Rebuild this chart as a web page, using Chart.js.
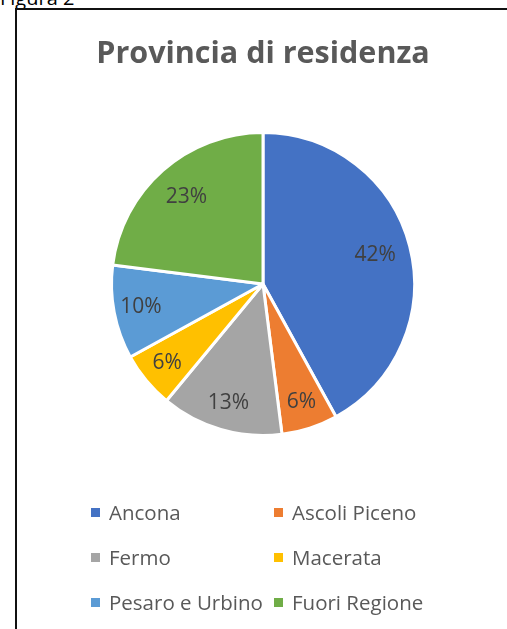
<!DOCTYPE html>
<html>
<head>
<meta charset="utf-8">
<script src="https://cdn.jsdelivr.net/npm/chart.js@4.4.0/dist/chart.umd.min.js"></script>
<style>
  html, body { margin: 0; padding: 0; background: #fff; width: 507px; height: 629px; overflow: hidden; position: relative; }
  #fig { position: absolute; left: 0; top: -16px; font-family: "Open Sans", sans-serif; font-size: 20px; color: #000; }
  #frame { position: absolute; left: 15px; top: 8px; width: 520px; height: 640px; border-left: 2px solid #111; border-top: 2px solid #111; }
  #wrap { position: absolute; left: 0; top: 0; width: 507px; height: 629px; }
  #legend { position: absolute; left: 0; top: 0; width: 507px; height: 629px; pointer-events: none; font-family: "Open Sans", sans-serif; font-size: 20.5px; color: #595959; }
  .li { position: absolute; white-space: nowrap; line-height: 24px; height: 24px; }
  .sw { position: absolute; width: 9px; height: 9px; top: 8px; left: 0; }
  .tx { position: absolute; left: 18px; top: 0; }
</style>
</head>
<body>
<div id="fig">Figura 2</div>
<div id="frame"></div>
<div id="wrap"><canvas id="c"></canvas></div>
<div id="legend"></div>
<script>
const titleText = "Provincia di residenza";
const categories = ["Ancona", "Ascoli Piceno", "Fermo", "Macerata", "Pesaro e Urbino", "Fuori Regione"];
const values = [42, 6, 13, 6, 10, 23];
const colors = ["#4472C4", "#ED7D31", "#A5A5A5", "#FFC000", "#5B9BD5", "#70AD47"];

const pctLabels = {
  id: 'pctLabels',
  afterDatasetsDraw(chart) {
    const ctx = chart.ctx;
    const meta = chart.getDatasetMeta(0);
    const total = values.reduce((a, b) => a + b, 0);
    ctx.save();
    ctx.font = '21px "Open Sans", sans-serif';
    ctx.fillStyle = '#404040';
    ctx.textAlign = 'center';
    ctx.textBaseline = 'middle';
    meta.data.forEach((arc, i) => {
      const p = arc.getProps(['x', 'y', 'startAngle', 'endAngle', 'outerRadius'], true);
      const mid = (p.startAngle + p.endAngle) / 2;
      const frac = values[i] / total;
      const r = p.outerRadius * (frac > 0.2 ? 0.765 : 0.82);
      const txt = Math.round(frac * 100) + '%';
      ctx.fillText(txt, p.x + Math.cos(mid) * r, p.y + Math.sin(mid) * r);
    });
    ctx.restore();
  }
};

new Chart(document.getElementById('c'), {
  type: 'pie',
  data: {
    labels: categories,
    datasets: [{
      data: values,
      backgroundColor: colors,
      borderColor: '#ffffff',
      borderWidth: 3
    }]
  },
  options: {
    responsive: true,
    maintainAspectRatio: false,
    animation: false,
    layout: { padding: { left: 19, right: 0, top: 0, bottom: 192 } },
    plugins: {
      legend: { display: false },
      tooltip: { enabled: false },
      title: {
        display: true,
        text: titleText,
        color: '#595959',
        font: { family: '"Open Sans", sans-serif', size: 30.5, weight: 'bold' },
        padding: { top: 35.7, bottom: 58.7 }
      }
    }
  },
  plugins: [pctLabels]
});

// legend as real text, 2 columns x 3 rows
const legendPos = [[91, 500], [274, 500], [91, 545], [274, 545], [91, 590], [274, 590]];
const lg = document.getElementById('legend');
categories.forEach((name, i) => {
  const d = document.createElement('div');
  d.className = 'li';
  d.style.left = legendPos[i][0] + 'px';
  d.style.top = legendPos[i][1] + 'px';
  const s = document.createElement('span');
  s.className = 'sw';
  s.style.background = colors[i];
  const t = document.createElement('span');
  t.className = 'tx';
  t.textContent = name;
  d.appendChild(s); d.appendChild(t);
  lg.appendChild(d);
});
</script>
</body>
</html>
